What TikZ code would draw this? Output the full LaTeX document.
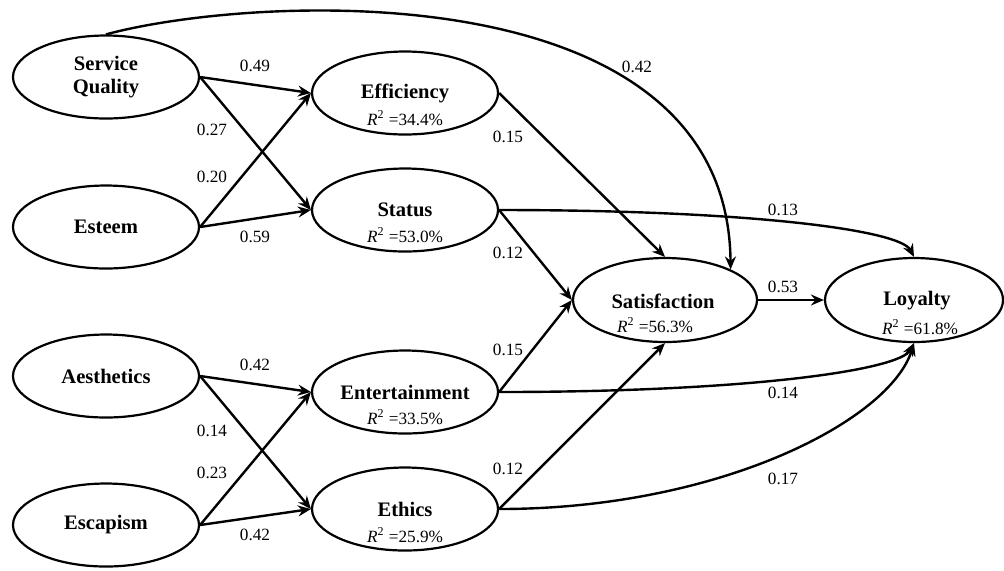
\documentclass[tikz,border=0pt]{standalone}
\usepackage{fontspec}
\setmainfont{Liberation Serif}
\usetikzlibrary{shapes.geometric, arrows.meta}
\tikzstyle{construct} = [ellipse, draw=black, line width=1.1pt, minimum width=93pt, minimum height=41.5pt, inner sep=0pt, align=center, font=\fontsize{10.3}{11.5}\selectfont\bfseries]
\tikzstyle{rsquare} = [inner sep=0pt, font=\fontsize{8.6}{10}\selectfont]
\tikzstyle{coef} = [inner sep=0pt, font=\fontsize{8.6}{10}\selectfont]
\tikzstyle{effect} = [line width=1.2pt, -{Stealth[length=6.5pt,width=5.5pt,inset=2.2pt]}]
\newcommand{\Rsq}[1]{{\itshape R}\textsuperscript{2} =#1\%}

\begin{document}
\begin{tikzpicture}[x=0.5pt,y=-0.5pt]
  \useasboundingbox (0,0) rectangle (1004,570);

  % Exogenous constructs
  \node (sq) at (106,77) [construct] {Service\\Quality};
  \node (est) at (106,227) [construct] {Esteem};
  \node (aes) at (106,376) [construct] {Aesthetics};
  \node (esc) at (106,525) [construct] {Escapism};

  % Value dimensions
  \node (eff) at (405,93) [construct] {Efficiency};
  \node (sta) at (405,210) [construct] {Status};
  \node (ent) at (405,392) [construct] {Entertainment};
  \node (eth) at (405,509) [construct] {Ethics};

  % Outcomes
  \node (sat) at (665,300) [construct, minimum width=92pt, minimum height=42pt] {};
  \node (loy) at (914,300) [construct, minimum width=89pt, minimum height=42pt] {};
  \node (satname) at (663,301) [construct, draw=none, minimum width=0pt, minimum height=0pt] {Satisfaction};
  \node (loyname) at (917,301) [construct, draw=none, minimum width=0pt, minimum height=0pt] {Loyalty};

  % R-square values
  \node (effr) at (405,118) [rsquare] {\Rsq{34.4}};
  \node (star) at (405,235) [rsquare] {\Rsq{53.0}};
  \node (entr) at (405,417) [rsquare] {\Rsq{33.5}};
  \node (ethr) at (405,535) [rsquare] {\Rsq{25.9}};
  \node (satr) at (655,325) [rsquare] {\Rsq{56.3}};
  \node (loyr) at (920,327) [rsquare] {\Rsq{61.8}};

  % Paths into the value dimensions
  \draw[effect] (sq.east) -- (eff.west);
  \draw[effect] (sq.east) -- (sta.west);
  \draw[effect] (est.east) -- (eff.west);
  \draw[effect] (est.east) -- (sta.west);
  \draw[effect] (aes.east) -- (ent.west);
  \draw[effect] (aes.east) -- (eth.west);
  \draw[effect] (esc.east) -- (ent.west);
  \draw[effect] (esc.east) -- (eth.west);

  % Paths into satisfaction
  \draw[effect] (eff.east) -- (sat.north);
  \draw[effect] (sta.east) -- (sat.west);
  \draw[effect] (ent.east) -- (sat.west);
  \draw[effect] (eth.east) -- (sat.south);
  \draw[effect] (sq.north) .. controls (250,-5) and (728,-32) .. (sat.25.5);

  % Paths into loyalty
  \draw[effect] (sat.east) -- (loy.west);
  \draw[effect] (sta.east) .. controls (750,210) and (900,230) .. (loy.north);
  \draw[effect] (ent.east) .. controls (750,392) and (900,370) .. (loy.south);
  \draw[effect] (eth.east) .. controls (720,509) and (890,420) .. (loy.south);

  % Path coefficients
  \node (c1) at (255,66) [coef] {0.49};
  \node (c2) at (212,130) [coef] {0.27};
  \node (c3) at (212,177) [coef] {0.20};
  \node (c4) at (255,237) [coef] {0.59};
  \node (c5) at (255,365) [coef] {0.42};
  \node (c6) at (212,431) [coef] {0.14};
  \node (c7) at (212,473) [coef] {0.23};
  \node (c8) at (255,535) [coef] {0.42};
  \node (c9) at (637,67) [coef] {0.42};
  \node (c10) at (508,137) [coef] {0.15};
  \node (c11) at (508,253) [coef] {0.12};
  \node (c12) at (508,350) [coef] {0.15};
  \node (c13) at (508,469) [coef] {0.12};
  \node (c14) at (783,210) [coef] {0.13};
  \node (c15) at (783,287) [coef] {0.53};
  \node (c16) at (783,393) [coef] {0.14};
  \node (c17) at (783,479) [coef] {0.17};

\end{tikzpicture}
\end{document}
